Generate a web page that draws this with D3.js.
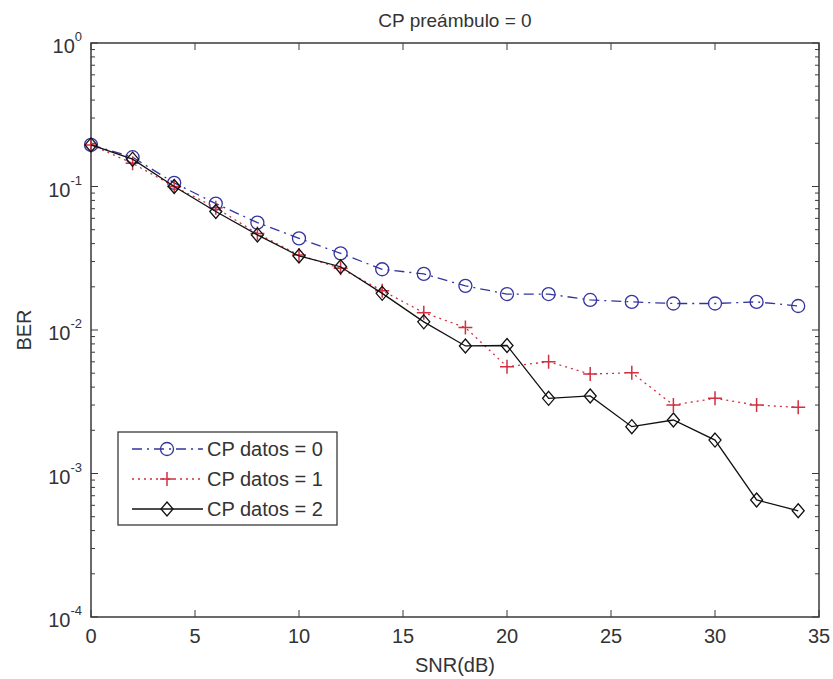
<!DOCTYPE html>
<html>
<head>
<meta charset="utf-8">
<script src="https://cdn.jsdelivr.net/npm/d3@7"></script>
<style>
body { margin: 0; background: #fff; }
text { font-family: "Liberation Sans", Arial, sans-serif; fill: #333; }
</style>
</head>
<body>
<div class="canvas"></div>
<script>
// data
const snr = [0, 2, 4, 6, 8, 10, 12, 14, 16, 18, 20, 22, 24, 26, 28, 30, 32, 34]
const berCp0 = [0.195, 0.16, 0.106, 0.076, 0.056, 0.0435, 0.0342, 0.0265, 0.0246, 0.0203, 0.0178, 0.0178, 0.0162, 0.0157, 0.0153, 0.0153, 0.0157, 0.0147]
const berCp1 = [0.195, 0.145, 0.1, 0.071, 0.047, 0.0333, 0.0269, 0.0188, 0.0132, 0.0104, 0.00555, 0.00601, 0.00493, 0.00504, 0.003, 0.00334, 0.003, 0.00289]
const berCp2 = [0.195, 0.155, 0.1, 0.067, 0.046, 0.0328, 0.0276, 0.018, 0.0114, 0.00774, 0.0078, 0.00334, 0.00347, 0.00212, 0.00236, 0.00171, 0.000654, 0.00055]
const xTicks = [0, 5, 10, 15, 20, 25, 30, 35]
const yExps = [0, -1, -2, -3, -4]
const seriesNames = ["CP datos = 0", "CP datos = 1", "CP datos = 2"]

const width = 833, height = 679
const margin = { top: 43, right: 14, bottom: 62, left: 91 }
const graphWidth = width - margin.left - margin.right
const graphHeight = height - margin.top - margin.bottom

const svg = d3.select(".canvas")
    .append("svg")
    .attr("width", width)
    .attr("height", height)

const graph = svg.append("g")
    .attr("transform", `translate(${margin.left}, ${margin.top})`)

const x = d3.scaleLinear().domain([0, 35]).range([0, graphWidth])
const y = d3.scaleLog().domain([1e-4, 1]).range([graphHeight, 0])

const axisColor = "#3a3a3a"

// minor log ticks on both sides
const minor = []
for (let e = -4; e < 0; e++) {
    for (let m = 2; m <= 9; m++) minor.push(m * Math.pow(10, e))
}
const tickG = graph.append("g").attr("stroke", axisColor).attr("stroke-width", 1)
minor.forEach(v => {
    tickG.append("line").attr("x1", 0).attr("x2", 4).attr("y1", y(v)).attr("y2", y(v))
    tickG.append("line").attr("x1", graphWidth).attr("x2", graphWidth - 4).attr("y1", y(v)).attr("y2", y(v))
})
yExps.forEach(e => {
    const v = Math.pow(10, e)
    tickG.append("line").attr("x1", 0).attr("x2", 7).attr("y1", y(v)).attr("y2", y(v))
    tickG.append("line").attr("x1", graphWidth).attr("x2", graphWidth - 7).attr("y1", y(v)).attr("y2", y(v))
})
xTicks.forEach(t => {
    tickG.append("line").attr("x1", x(t)).attr("x2", x(t)).attr("y1", graphHeight).attr("y2", graphHeight - 7)
    tickG.append("line").attr("x1", x(t)).attr("x2", x(t)).attr("y1", 0).attr("y2", 7)
})

// frame
graph.append("rect")
    .attr("width", graphWidth)
    .attr("height", graphHeight)
    .attr("fill", "none")
    .attr("stroke", axisColor)
    .attr("stroke-width", 1.5)

// tick labels
graph.selectAll(".xlab")
    .data(xTicks)
    .enter()
    .append("text")
    .attr("x", d => x(d))
    .attr("y", graphHeight + 26)
    .attr("text-anchor", "middle")
    .attr("font-size", 20)
    .text(d => d)

yExps.forEach(e => {
    const t = graph.append("text")
        .attr("x", -9)
        .attr("y", y(Math.pow(10, e)) + 10)
        .attr("text-anchor", "end")
        .attr("font-size", 20)
    t.append("tspan").text("10")
    t.append("tspan").attr("dy", -12).attr("font-size", 13).text(e)
})

// titles
svg.append("text")
    .attr("x", margin.left + graphWidth / 2)
    .attr("y", 27)
    .attr("text-anchor", "middle")
    .attr("font-size", 19)
    .text("CP preámbulo = 0")

svg.append("text")
    .attr("x", margin.left + graphWidth / 2)
    .attr("y", 672)
    .attr("text-anchor", "middle")
    .attr("font-size", 20)
    .text("SNR(dB)")

svg.append("text")
    .attr("transform", `translate(31, ${margin.top + graphHeight / 2}) rotate(-90)`)
    .attr("text-anchor", "middle")
    .attr("font-size", 20)
    .text("BER")

// series
const series = [
    { values: berCp0, color: "#34349f", dash: "10,5,2,5", marker: "circle" },
    { values: berCp1, color: "#d03040", dash: "2,4", marker: "plus" },
    { values: berCp2, color: "#111", dash: null, marker: "diamond" }
]

const line = d3.line().x(d => x(d[0])).y(d => y(d[1]))

function drawMarker(g, type, cx, cy, color) {
    if (type === "circle") {
        g.append("circle").attr("cx", cx).attr("cy", cy).attr("r", 6.5)
            .attr("fill", "none").attr("stroke", color).attr("stroke-width", 1.3)
    } else if (type === "plus") {
        g.append("path").attr("d", `M${cx - 7},${cy}H${cx + 7}M${cx},${cy - 7}V${cy + 7}`)
            .attr("stroke", color).attr("stroke-width", 1.5)
    } else {
        g.append("path").attr("d", `M${cx},${cy - 7}L${cx + 6},${cy}L${cx},${cy + 7}L${cx - 6},${cy}Z`)
            .attr("fill", "none").attr("stroke", color).attr("stroke-width", 1.3)
    }
}

series.forEach(s => {
    const pts = snr.map((v, i) => [v, s.values[i]])
    graph.append("path")
        .datum(pts)
        .attr("d", line)
        .attr("fill", "none")
        .attr("stroke", s.color)
        .attr("stroke-width", 1.3)
        .attr("stroke-dasharray", s.dash)
    const mg = graph.append("g")
    pts.forEach(p => drawMarker(mg, s.marker, x(p[0]), y(p[1]), s.color))
})

// legend
const legend = svg.append("g").attr("transform", "translate(118, 432)")
legend.append("rect")
    .attr("width", 219)
    .attr("height", 93)
    .attr("fill", "#fff")
    .attr("stroke", axisColor)
    .attr("stroke-width", 1.3)

series.forEach((s, i) => {
    const ly = 17 + i * 30
    legend.append("line")
        .attr("x1", 14).attr("x2", 85)
        .attr("y1", ly).attr("y2", ly)
        .attr("stroke", s.color)
        .attr("stroke-width", 1.3)
        .attr("stroke-dasharray", s.dash)
    drawMarker(legend, s.marker, 49, ly, s.color)
    legend.append("text")
        .attr("x", 89)
        .attr("y", ly + 7)
        .attr("font-size", 20)
        .text(seriesNames[i])
})
</script>
</body>
</html>
